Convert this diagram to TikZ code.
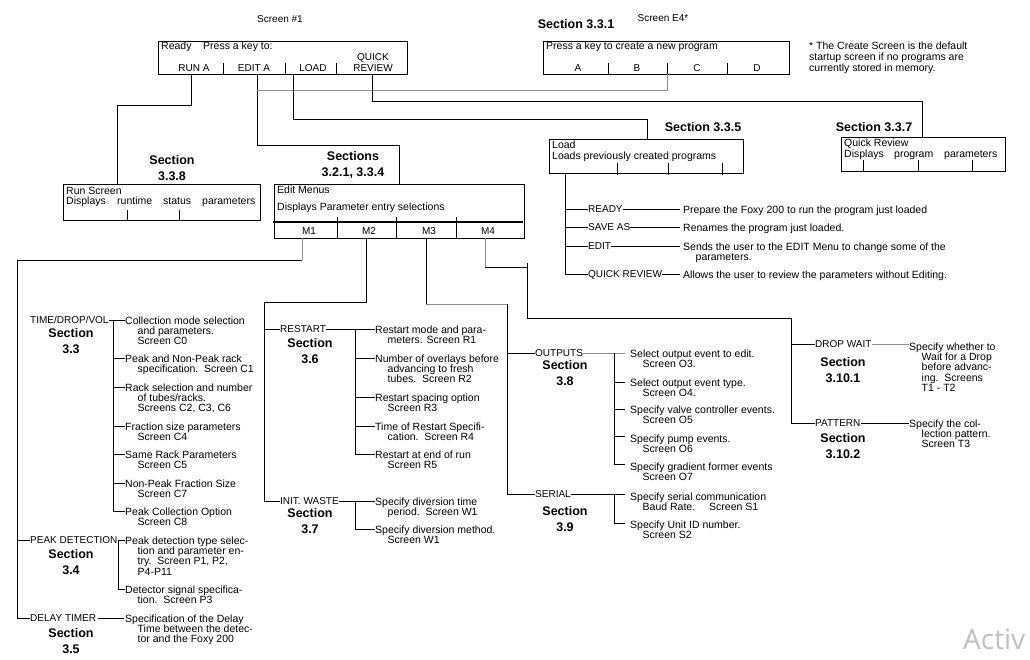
\documentclass[tikz,border=0pt]{standalone}
\usepackage{fontspec}
\setmainfont{Liberation Sans}
\newfontfamily\wmfont{Open Sans}
\newcommand\dind{\hspace*{12.5pt}}
\tikzset{
 lbl/.style={inner sep=0pt, font=\fontsize{10}{10.3}\selectfont, text height=7.2pt, text depth=0pt},
 mlbl/.style={inner sep=0pt, font=\fontsize{10.5}{10.4}\selectfont, text height=7.5pt, text depth=0pt},
 desc/.style={inner sep=0pt, font=\fontsize{10.5}{10.4}\selectfont, anchor=north west, align=left},
 sect/.style={inner sep=0pt, font=\fontsize{12.5}{16}\selectfont\bfseries, anchor=north, align=center},
 frame/.style={draw, line width=1.3pt, inner sep=0pt, anchor=north west},
 conn/.style={line width=0.9pt},
 gconn/.style={line width=0.9pt, draw=black!45},
}
\begin{document}
\begin{tikzpicture}[x=1pt,y=-1pt]
\useasboundingbox (0,0) rectangle (1030,660);

% ---------------- Screen #1
\node[lbl] (s1t) at (280,19) {Screen \#1};
\node[frame, minimum width=249pt, minimum height=33pt] (s1) at (158,41) {};
\node[mlbl,anchor=west] (s1a) at (161,46) {Ready};
\node[mlbl,anchor=west] (s1b) at (203,46) {Press a key to:};
\node[lbl] (runa) at (194,68) {RUN A};
\node[lbl] (edita) at (254,68) {EDIT A};
\node[lbl] (loada) at (313,68) {LOAD};
\node[lbl] (qra) at (373,57) {QUICK};
\node[lbl] (qrb) at (373,68) {REVIEW};
\foreach \x in {223,285,336} \draw[conn] (\x,63) -- (\x,74);

% ---------------- Screen E4
\node[sect, anchor=center] (sec331) at (576,24) {Section 3.3.1};
\node[lbl] (e4t) at (663,18) {Screen E4*};
\node[frame, minimum width=246pt, minimum height=33pt] (e4) at (543,41) {};
\node[mlbl,anchor=west] (e4a) at (546,46) {Press a key to create a new program};
\node[lbl] (ka) at (578,68) {A};
\node[lbl] (kb) at (637,68) {B};
\node[lbl] (kc) at (697,68) {C};
\node[lbl] (kd) at (757,68) {D};
\foreach \x in {608,667,727} \draw[conn] (\x,63) -- (\x,74);
\node[desc, font=\fontsize{10.5}{11}\selectfont] (note) at (809,41.5) {* The Create Screen is the default\\startup screen if no programs are\\currently stored in memory.};

% ---------------- top connectors
\coordinate (pRun) at (191,74);
\coordinate (pEdit) at (257,74);
\coordinate (pLoad) at (293,74);
\coordinate (pQR) at (372,74);
\coordinate (pC) at (667,74);
\draw[conn] (pRun) |- (117,105) -- (117,184);
\draw[conn] (pEdit) |- (399,145) -- (399,184);
\draw[gconn] (pC) |- (257,90);
\draw[conn] (pLoad) |- (647,119) -- (647,139);
\draw[conn] (pQR) |- (922,101) -- (922,137);

% ---------------- Run screen
\node[sect] (sec338) at (172,155.3) {Section\\3.3.8};
\node[frame, minimum width=197pt, minimum height=36pt] (runbox) at (63,184) {};
\node[mlbl,anchor=west] (rs1) at (66,191) {Run Screen};
\node[mlbl,anchor=west] (rs2) at (66,201) {Displays};
\node[mlbl,anchor=west] (rs3) at (117,201) {runtime};
\node[mlbl,anchor=west] (rs4) at (163,201) {status};
\node[mlbl,anchor=west] (rs5) at (202,201) {parameters};
\foreach \x in {127,179} \draw[conn] (\x,210) -- (\x,220);

% ---------------- Edit menus
\node[sect] (sec32) at (353,151.3) {Sections\\3.2.1, 3.3.4};
\node[frame, minimum width=250pt, minimum height=54pt] (editbox) at (274,184) {};
\node[mlbl,anchor=west] (em1) at (277,190) {Edit Menus};
\node[mlbl,anchor=west] (em2) at (277,207) {Displays Parameter entry selections};
\draw[line width=1.3pt] (273,222) -- (523,222);
\foreach \x in {337,396,456} \draw[conn] (\x,217) -- (\x,238);
\node[lbl] (m1) at (309,231) {M1};
\node[lbl] (m2) at (369,231) {M2};
\node[lbl] (m3) at (429,231) {M3};
\node[lbl] (m4) at (488,231) {M4};

% ---------------- Load
\node[sect] (sec335) at (703,122.3) {Section 3.3.5};
\node[frame, minimum width=194pt, minimum height=34pt] (loadbox) at (549,139) {};
\node[mlbl,anchor=west] (ld1) at (552,145) {Load};
\node[mlbl,anchor=west] (ld2) at (552,156) {Loads previously created programs};
\foreach \x in {617,668,722} \draw[conn] (\x,163) -- (\x,175);
\node[lbl,anchor=west] (ready) at (588,209) {READY};
\node[lbl,anchor=west] (saveas) at (588,227) {SAVE AS};
\node[lbl,anchor=west] (ledit) at (588,246) {EDIT};
\node[lbl,anchor=west] (lqr) at (588,274) {QUICK REVIEW};
\draw[conn] (565,173) -- (565,274) -- (lqr.west);
\draw[conn] (565,209) -- (ready.west);
\draw[conn] (565,227) -- (saveas.west);
\draw[conn] (565,246) -- (ledit.west);
\node[desc] (dready) at (683,205.2) {Prepare the Foxy 200 to run the program just loaded};
\node[desc] (dsave) at (683,223.2) {Renames the program just loaded.};
\node[desc] (dedit) at (683,242.2) {Sends the user to the EDIT Menu to change some of the\\\dind parameters.};
\node[desc] (dqr) at (683,270.2) {Allows the user to review the parameters without Editing.};
\draw[conn] (ready.east) -- (680,209);
\draw[conn] (saveas.east) -- (680,227);
\draw[conn] (ledit.east) -- (680,246);
\draw[conn] (lqr.east) -- (680,274);

% ---------------- Quick review
\node[sect] (sec337) at (874,122.3) {Section 3.3.7};
\node[frame, minimum width=164pt, minimum height=34pt] (qrbox) at (841,137) {};
\node[mlbl,anchor=west] (q1) at (844,143) {Quick Review};
\node[mlbl,anchor=west] (q2) at (844,154) {Displays};
\node[mlbl,anchor=west] (q3) at (894,154) {program};
\node[mlbl,anchor=west] (q4) at (944,154) {parameters};
\foreach \x in {863,918,972} \draw[conn] (\x,160) -- (\x,171);

% ---------------- M connectors
\draw[gconn] (302,238) -- (302,260);
\node[lbl,anchor=west] (pd) at (30,540) {PEAK DETECTION};
\node[lbl,anchor=west] (dly) at (30,618) {DELAY TIMER};
\draw[conn] (302,260) -- (17,260) -- (17,618) -- (dly.west);
\draw[conn] (17,540) -- (pd.west);

\node[lbl,anchor=west] (rst) at (280,329) {RESTART};
\node[lbl,anchor=west] (iw) at (280,501) {INIT. WASTE};
\draw[conn] (366,238) |- (264,302) -- (264,501) -- (iw.west);
\draw[conn] (264,329) -- (rst.west);

\node[lbl,anchor=west] (out) at (535,353) {OUTPUTS};
\node[lbl,anchor=west] (ser) at (535,494) {SERIAL};
\draw[conn] (426,238) -- (426,304);
\draw[gconn] (426,304) -- (507,304);
\draw[conn] (507,304) -- (507,494) -- (ser.west);
\draw[conn] (507,353) -- (out.west);

\node[lbl,anchor=west] (dw) at (815,344) {DROP WAIT};
\node[lbl,anchor=west] (pat) at (815,423) {PATTERN};
\draw[gconn] (485,238) -- (485,267);
\draw[conn] (485,267) -- (527,267);
\draw[conn] (527,263) -- (527,318) -- (791,318) -- (791,423) -- (pat.west);
\draw[conn] (791,344) -- (dw.west);

% ---------------- TIME/DROP/VOL column
\node[lbl,anchor=west] (tdv) at (30,320) {TIME/DROP/VOL};
\node[sect] (sec33) at (71,328.3) {Section\\3.3};
\draw[conn] (tdv.east) -- (125,320);
\draw[conn] (113,320) -- (113,511);
\foreach \y in {358,387,426,454,483,511} \draw[conn] (113,\y) -- (125,\y);
\node[desc] (c0) at (125,316.2) {Collection mode selection\\\dind and parameters.\\\dind Screen C0};
\node[desc] (c1) at (125,354.2) {Peak and Non-Peak rack\\\dind specification.\ \ Screen C1};
\node[desc] (c2) at (125,383.2) {Rack selection and number\\\dind of tubes/racks.\\\dind Screens C2, C3, C6};
\node[desc] (c4) at (125,422.2) {Fraction size parameters\\\dind Screen C4};
\node[desc] (c5) at (125,450.2) {Same Rack Parameters\\\dind Screen C5};
\node[desc] (c7) at (125,479.2) {Non-Peak Fraction Size\\\dind Screen C7};
\node[desc] (c8) at (125,507.2) {Peak Collection Option\\\dind Screen C8};

\node[sect] (sec34) at (71,549.3) {Section\\3.4};
\draw[conn] (pd.east) -- (125,540);
\draw[conn] (118,540) -- (118,589) -- (125,589);
\node[desc] (p1) at (125,536.2) {Peak detection type selec-\\\dind tion and parameter en-\\\dind try.\ \ Screen P1, P2,\\\dind P4-P11};
\node[desc] (p3) at (125,585.2) {Detector signal specifica-\\\dind tion.\ \ Screen P3};

\node[sect] (sec35) at (71,628.3) {Section\\3.5};
\draw[conn] (dly.east) ++(2,0) -- (124,618);
\node[desc] (dt) at (125,614.2) {Specification of the Delay\\\dind Time between the detec-\\\dind tor and the Foxy 200};

% ---------------- RESTART column
\node[sect] (sec36) at (310,338.3) {Section\\3.6};
\draw[conn] (rst.east) -- (375,329);
\draw[conn] (355,329) -- (355,454);
\foreach \y in {358,397,426,454} \draw[conn] (355,\y) -- (375,\y);
\node[desc] (r1) at (375,325.2) {Restart mode and para-\\\dind meters. Screen R1};
\node[desc] (r2) at (375,354.2) {Number of overlays before\\\dind advancing to fresh\\\dind tubes.\ \ Screen R2};
\node[desc] (r3) at (375,393.2) {Restart spacing option\\\dind Screen R3};
\node[desc] (r4) at (375,422.2) {Time of Restart Specifi-\\\dind cation.\ \ Screen R4};
\node[desc] (r5) at (375,450.2) {Restart at end of run\\\dind Screen R5};

\node[sect] (sec37) at (310,508.3) {Section\\3.7};
\draw[conn] (iw.east) -- (375,501);
\draw[conn] (355,501) -- (355,529) -- (375,529);
\node[desc] (w1) at (375,497.2) {Specify diversion time\\\dind period.\ \ Screen W1};
\node[desc] (w2) at (375,525.2) {Specify diversion method.\\\dind Screen W1};

% ---------------- OUTPUTS column
\node[sect] (sec38) at (565,360.3) {Section\\3.8};
\draw[gconn] (out.east) -- (625,353);
\draw[conn] (614,353) -- (614,464);
\foreach \y in {382,409,436,464} \draw[conn] (614,\y) -- (625,\y);
\node[desc] (o3) at (630,349.2) {Select output event to edit.\\\dind Screen O3.};
\node[desc] (o4) at (630,378.2) {Select output event type.\\\dind Screen O4.};
\node[desc] (o5) at (630,405.2) {Specify valve controller events.\\\dind Screen O5};
\node[desc] (o6) at (630,434.2) {Specify pump events.\\\dind Screen O6};
\node[desc] (o7) at (630,462.2) {Specify gradient former events\\\dind Screen O7};

\node[sect] (sec39) at (565,506.3) {Section\\3.9};
\draw[conn] (ser.east) -- (625,494);
\draw[conn] (614,494) -- (614,523) -- (625,523);
\node[desc] (s1d) at (630,492.2) {Specify serial communication\\\dind Baud Rate.\hspace{14pt}Screen S1};
\node[desc] (s2d) at (630,520.2) {Specify Unit ID number.\\\dind Screen S2};

% ---------------- DROP WAIT column
\node[sect] (sec3101) at (843,357.3) {Section\\3.10.1};
\draw[gconn] (dw.east) -- (909,344);
\node[desc] (t1) at (909,342.2) {Specify whether to\\\dind Wait for a Drop\\\dind before advanc-\\\dind ing.\ \ Screens\\\dind T1 - T2};
\node[sect] (sec3102) at (843,433.3) {Section\\3.10.2};
\draw[conn] (pat.east) -- (909,423);
\node[desc] (t3) at (909,419.2) {Specify the col-\\\dind lection pattern.\\\dind Screen T3};

% ---------------- watermark
\node[inner sep=0pt, anchor=base west, font=\wmfont\fontsize{28}{28}\selectfont, text=black!25] (wm) at (963,649) {Activ};
\end{tikzpicture}
\end{document}
